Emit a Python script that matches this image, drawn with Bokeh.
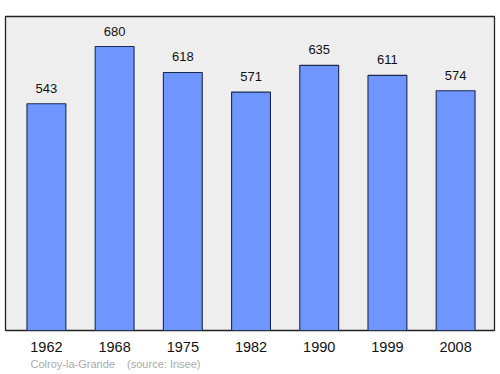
from bokeh.plotting import figure
from bokeh.models import ColumnDataSource, FixedTicker, Range1d, Title
from bokeh.embed import file_html
from bokeh.resources import INLINE
from bokeh.core.properties import value

years = ["1962", "1968", "1975", "1982", "1990", "1999", "2008"]
population = [543, 680, 618, 571, 635, 611, 574]
source_note = "Colroy-la-Grande\u00a0\u00a0\u00a0\u00a0(source: Insee)"

xs = list(range(len(years)))
src = ColumnDataSource(dict(x=xs, top=population, lbl=[str(v) for v in population]))

p = figure(width=500, height=374, output_backend="svg", toolbar_location=None,
           x_range=Range1d(-0.6, 6.57), y_range=Range1d(0, 752),
           min_border_left=5, min_border_right=6, min_border_top=16, min_border_bottom=44)
p.background_fill_color = "#eeeeee"
p.border_fill_color = "white"
p.outline_line_color = "#222222"
p.outline_line_width = 1.3
p.grid.visible = False
p.yaxis.visible = False

p.vbar(x="x", top="top", width=0.57, bottom=0, source=src,
       fill_color="#6f96ff", line_color="#1c2850", line_width=1.1)
p.text(x="x", y="top", text="lbl", source=src, text_align="center",
       text_baseline="bottom", y_offset=-11, text_font=value("Liberation Sans"),
       text_font_size="13px", text_color="#111111")

ax = p.xaxis[0]
ax.ticker = FixedTicker(ticks=xs)
ax.major_label_overrides = {i: y for i, y in enumerate(years)}
ax.major_tick_line_color = None
ax.minor_tick_line_color = None
ax.axis_line_color = None
ax.major_label_text_font = "Liberation Sans"
ax.major_label_text_font_size = "14.5px"
ax.major_label_text_color = "#111111"
ax.major_label_standoff = 5

note = Title(text=source_note, align="left", offset=25, standoff=3,
             text_font="Liberation Sans", text_font_size="11px",
             text_font_style="normal", text_color="#aaaaaa")
p.add_layout(note, "below")

open("out.html", "w").write(file_html(p, INLINE))
